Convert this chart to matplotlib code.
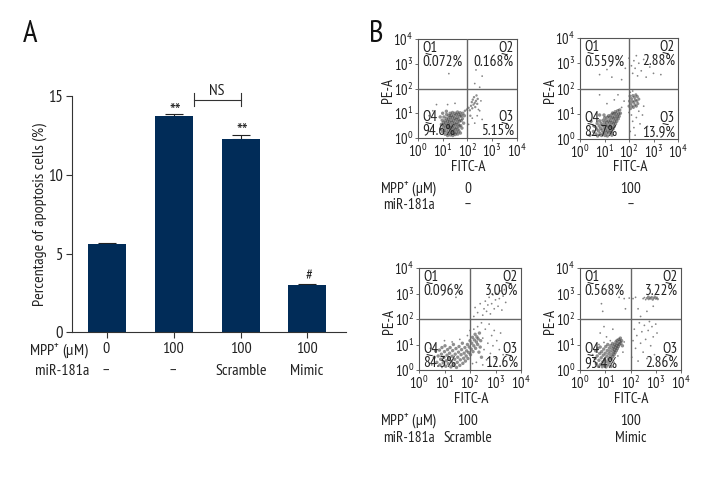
import numpy as np
import matplotlib
matplotlib.use('Agg')
import matplotlib.pyplot as plt
from matplotlib import font_manager as fm

# a narrow face if the machine has one, otherwise plain Liberation Sans
installed = set(f.name for f in fm.fontManager.ttflist)
narrow = [n for n in ['PT Sans Narrow', 'Fira Sans Condensed', 'Liberation Sans Narrow', 'Liberation Sans'] if n in installed]
plt.rcParams['font.family'] = narrow + ['DejaVu Sans']
plt.rcParams['mathtext.fontset'] = 'custom'
plt.rcParams['mathtext.rm'] = narrow[0]
plt.rcParams['mathtext.default'] = 'rm'

# bar chart values
bar_values = [5.6, 13.75, 12.3, 3.0]
bar_errors = [0.05, 0.08, 0.25, 0.07]
mpp_labels = ['0', '100', '100', '100']
mir_labels = ['–', '–', 'Scramble', 'Mimic']
bar_marks = ['', '**', '**', '#']
y_ticks = [0, 5, 10, 15]

# flow panels, text
quad_names = ['Q1', 'Q2', 'Q3', 'Q4']
p1_pct = ['0.072%', '0.168%', '5.15%', '94.6%']
p2_pct = ['0.559%', '2.88%', '13.9%', '82.7%']
p3_pct = ['0.096%', '3.00%', '12.6%', '84.3%']
p4_pct = ['0.568%', '3.22%', '2.86%', '93.4%']
gate_x = [2.0, 2.0, 2.0, 2.0]
gate_y = [2.0, 2.0, 2.0, 2.0]

# flow panels, events read by eye, in decades (log10 of FITC-A, log10 of PE-A)
p1_points = [
    (0.92,0.35),(0.95,0.55),(0.98,0.72),(1.0,0.25),(1.02,0.45),(1.03,0.62),(1.05,0.85),(1.07,0.3),(1.08,0.52),(1.1,0.7),
    (1.1,0.15),(1.12,0.4),(1.13,0.6),(1.15,0.8),(1.16,0.95),(1.17,0.25),(1.18,0.48),(1.2,0.68),(1.2,0.1),(1.22,0.36),
    (1.23,0.56),(1.24,0.76),(1.25,0.9),(1.26,0.2),(1.27,0.44),(1.28,0.64),(1.3,0.84),(1.3,1.0),(1.31,0.12),(1.32,0.32),
    (1.33,0.52),(1.34,0.72),(1.35,0.92),(1.36,0.22),(1.37,0.42),(1.38,0.62),(1.39,0.82),(1.4,1.03),(1.41,0.1),(1.42,0.3),
    (1.43,0.5),(1.44,0.7),(1.45,0.9),(1.46,0.2),(1.47,0.4),(1.48,0.6),(1.49,0.8),(1.5,1.0),(1.51,0.14),(1.52,0.34),
    (1.53,0.54),(1.54,0.74),(1.55,0.94),(1.56,0.24),(1.57,0.44),(1.58,0.64),(1.59,0.84),(1.6,1.05),(1.61,0.16),(1.62,0.36),
    (1.63,0.56),(1.64,0.76),(1.65,0.96),(1.66,0.28),(1.67,0.48),(1.68,0.68),(1.7,0.88),(1.71,1.02),(1.72,0.2),(1.73,0.5),
    (1.75,0.7),(1.76,0.9),(1.78,0.4),(1.8,0.78),(1.82,1.0),(1.85,0.6),(1.88,0.9),(1.0,1.0),(0.9,0.85),(1.15,1.08),
    (1.9,1.1),(1.98,1.15),(2.05,1.22),(2.1,1.12),(2.12,0.9),(2.15,1.3),(2.18,1.45),(2.2,1.2),(2.22,1.55),(2.25,1.35),
    (2.27,1.65),(2.3,1.42),(2.32,1.25),(2.35,1.5),(2.37,1.72),(2.4,1.38),(2.42,1.58),(2.45,1.15),(2.2,0.8),(2.3,0.6),
    (2.4,0.9),(2.5,1.1),(2.55,1.5),(2.6,0.75),(2.05,0.55),(0.6,1.1),(0.75,1.35),(0.45,0.9),(1.2,1.35),(1.5,1.4),
    (2.35,2.75),(2.6,2.5),(1.25,2.6),(1.45,2.9),(2.3,2.2),(2.5,2.05),
]
p2_points = [
    (0.55,0.3),(0.6,0.5),(0.65,0.2),(0.68,0.4),(0.7,0.62),(0.72,0.12),(0.75,0.32),(0.78,0.52),(0.8,0.72),(0.82,0.22),
    (0.84,0.42),(0.86,0.62),(0.88,0.14),(0.9,0.34),(0.92,0.54),(0.94,0.74),(0.96,0.24),(0.98,0.44),(1.0,0.64),(1.01,0.84),
    (1.02,0.14),(1.04,0.34),(1.05,0.54),(1.06,0.74),(1.08,0.24),(1.09,0.44),(1.1,0.64),(1.11,0.86),(1.12,0.12),(1.14,0.32),
    (1.15,0.52),(1.16,0.72),(1.17,0.92),(1.18,0.24),(1.2,0.44),(1.21,0.64),(1.22,0.84),(1.24,0.34),(1.25,0.54),(1.26,0.74),
    (1.27,0.95),(1.28,0.26),(1.3,0.46),(1.31,0.66),(1.32,0.86),(1.33,1.03),(1.35,0.4),(1.36,0.6),(1.37,0.8),(1.38,1.0),
    (1.4,0.5),(1.41,0.7),(1.42,0.9),(1.44,1.08),(1.45,0.6),(1.47,0.8),(1.48,1.0),(1.5,0.7),(1.52,0.9),(1.54,1.12),
    (1.56,0.8),(1.58,1.0),(1.6,0.9),(1.62,1.15),(1.65,1.02),(0.45,0.7),(0.4,0.15),(0.98,0.95),(0.8,0.95),(1.3,0.15),
    (2.0,1.3),(2.02,1.5),(2.04,1.7),(2.06,1.2),(2.08,1.4),(2.1,1.6),(2.12,1.3),(2.14,1.5),(2.16,1.72),(2.18,1.25),
    (2.2,1.45),(2.22,1.65),(2.24,1.35),(2.26,1.55),(2.28,1.75),(2.3,1.3),(2.32,1.5),(2.34,1.68),(2.36,1.4),(2.4,1.58),
    (2.05,1.85),(2.15,1.9),(2.0,1.05),(2.1,0.95),(2.15,0.7),(2.2,0.45),(2.05,0.3),(2.3,0.85),(2.4,1.1),(2.45,0.6),
    (2.55,0.95),(2.25,0.15),(2.6,1.3),(2.75,0.5),(1.7,1.25),(1.8,1.5),(1.4,1.55),(1.1,1.4),(0.8,1.75),(1.55,1.75),
    (0.8,2.55),(1.1,2.75),(1.3,2.45),(1.5,2.95),(1.7,2.35),(1.85,2.8),(2.0,3.2),(2.1,2.9),(2.15,2.6),(2.2,3.1),
    (2.25,2.8),(2.3,3.3),(2.35,2.5),(2.4,3.0),(2.5,2.7),(2.6,3.15),(2.7,2.45),(2.85,2.85),(3.0,2.6),(3.3,2.55),
]
p3_points = [
    (0.6,0.5),(0.65,0.75),(0.7,0.3),(0.75,0.55),(0.8,0.78),(0.82,0.2),(0.85,0.42),(0.88,0.62),(0.9,0.88),(0.95,0.28),
    (0.98,0.5),(1.0,0.72),(1.02,0.95),(1.05,0.15),(1.07,0.36),(1.1,0.58),(1.12,0.8),(1.15,0.25),(1.17,0.46),(1.2,0.66),
    (1.22,0.88),(1.25,0.12),(1.27,0.34),(1.3,0.54),(1.32,0.76),(1.35,1.0),(1.37,0.22),(1.4,0.42),(1.42,0.62),(1.45,0.84),
    (1.47,0.1),(1.5,0.3),(1.52,0.5),(1.55,0.7),(1.57,0.92),(1.6,0.18),(1.62,0.4),(1.65,0.6),(1.67,0.8),(1.7,1.05),
    (1.72,0.26),(1.75,0.46),(1.77,0.66),(1.8,0.88),(1.82,0.35),(1.85,0.55),(1.87,0.75),(1.9,1.0),(1.92,0.45),(1.95,0.68),
    (1.97,0.9),(2.0,1.15),(2.02,0.6),(2.05,0.82),(2.07,1.05),(2.1,1.28),(2.12,0.72),(2.15,0.95),(2.17,1.18),(2.2,1.4),
    (2.22,0.85),(2.25,1.1),(2.27,1.3),(2.3,1.0),(2.32,1.22),(2.35,0.7),(2.37,1.45),(2.4,0.9),(2.42,1.15),(2.45,0.5),
    (0.5,0.2),(0.45,0.85),(0.9,0.1),(1.3,1.1),(1.6,1.2),(1.9,1.35),(1.0,1.15),(2.0,1.55),(2.15,1.6),(2.3,1.7),
    (2.5,1.25),(2.55,0.8),(2.6,1.6),(2.65,0.4),(2.7,1.05),(2.75,1.8),(2.8,0.65),(2.85,1.35),(2.9,0.95),(2.95,1.55),
    (3.0,0.45),(3.05,1.15),(3.15,0.8),(3.2,1.45),(2.5,0.2),(2.8,0.18),(2.25,0.3),(2.1,0.25),(2.45,1.85),(3.3,0.6),
    (2.15,2.1),(2.2,2.45),(2.3,2.25),(2.4,2.6),(2.5,2.15),(2.55,2.4),(2.6,2.7),(2.65,2.3),(2.7,2.55),(2.75,2.85),
    (2.8,2.2),(2.85,2.6),(2.9,2.95),(2.95,2.4),(3.0,2.75),(3.05,3.0),(3.1,2.5),(3.15,2.8),(3.2,3.1),(3.25,2.35),
    (3.3,2.9),(3.35,3.15),(3.4,2.65),(1.45,2.85),(1.55,3.05),
]
p4_points = [
    (0.6,0.45),(0.62,0.75),(0.65,0.25),(0.68,0.55),(0.7,0.85),(0.72,0.15),(0.75,0.38),(0.78,0.65),(0.8,0.9),(0.82,0.22),
    (0.84,0.48),(0.86,0.72),(0.88,0.13),(0.9,0.32),(0.92,0.58),(0.94,0.82),(0.96,0.2),(0.98,0.42),(1.0,0.66),(1.02,0.92),
    (1.03,0.12),(1.05,0.32),(1.06,0.54),(1.08,0.76),(1.1,1.0),(1.11,0.2),(1.13,0.42),(1.14,0.64),(1.16,0.86),(1.18,0.3),
    (1.19,0.52),(1.2,0.74),(1.22,0.96),(1.23,0.14),(1.25,0.42),(1.26,0.62),(1.28,0.84),(1.29,1.04),(1.3,0.52),(1.32,0.72),
    (1.33,0.92),(1.35,0.6),(1.36,0.8),(1.38,1.0),(1.39,0.68),(1.41,0.88),(1.42,1.1),(1.44,0.76),(1.45,0.96),(1.47,1.16),
    (1.48,0.84),(1.5,1.04),(1.52,0.92),(1.54,1.2),(1.56,1.0),(1.58,1.12),(1.6,1.25),(1.62,1.05),(1.65,1.15),(1.68,0.95),
    (0.75,1.0),(0.95,1.08),(1.2,1.15),(1.35,0.3),(1.5,0.55),(1.7,0.7),(1.75,1.1),(0.5,0.6),(1.05,1.3),(0.8,1.45),
    (0.95,1.7),(1.3,1.6),(2.05,0.5),(2.1,1.15),(2.15,1.6),(2.2,0.85),(2.25,1.35),(2.3,0.35),(2.35,1.85),(2.4,1.05),
    (2.45,1.5),(2.5,0.7),(2.55,1.75),(2.6,1.2),(2.65,0.45),(2.7,1.55),(2.75,1.9),(2.8,0.95),(2.85,1.7),(2.9,1.3),
    (2.95,0.6),(3.0,1.8),(3.05,1.45),(1.55,2.85),(1.75,2.8),(1.95,2.82),(2.1,2.8),(2.2,2.85),(2.3,2.4),(2.4,2.1),
    (2.5,2.8),(2.55,2.84),(2.6,2.76),(2.65,2.82),(2.7,2.88),(2.72,2.78),(2.76,2.84),(2.8,2.8),(2.84,2.86),(2.88,2.76),
    (2.92,2.82),(2.96,2.88),(3.0,2.8),(3.04,2.84),(3.08,2.78),(2.65,2.3),(2.9,2.5),(0.9,2.3),(0.85,2.6),(1.8,2.4),
]

# pixel layout of the original
W, H = 720, 480
navy = '#012c58'
ink = '#333333'
row_fs = 11.5


def ax_px(left, top, right, bottom):
    return fig.add_axes([left / W, 1 - bottom / H, (right - left) / W, (bottom - top) / H])


def label(x, y, s, ha='center', size=row_fs, color='#222222'):
    fig.text(x / W, 1 - y / H, s, ha=ha, va='center', fontsize=size, color=color)


def flow_panel(box, points, dense, pct, gx, gy, row_x, mpp, mir, xlabel_y, row_y):
    left, top, right, bottom = box
    ax = ax_px(left, top, right, bottom)
    pts = np.array(points)
    sizes = np.full(len(pts), 1.6)
    alphas = np.full(len(pts), 0.6)
    # the crowded parts of each cloud get fatter dots
    for a, b, sz in dense:
        sizes[a:b] = sz
        alphas[a:b] = 0.55
    colors = np.zeros((len(pts), 4))
    colors[:, :3] = 0.2
    colors[:, 3] = alphas
    ax.scatter(10 ** pts[:, 0], 10 ** pts[:, 1], s=sizes, c=colors, linewidths=0, zorder=2)
    ax.set_xscale('log')
    ax.set_yscale('log')
    ax.set_xlim(1, 1e4)
    ax.set_ylim(1, 1e4)
    ax.axvline(10 ** gx, color='#666666', lw=1.0, zorder=3)
    ax.axhline(10 ** gy, color='#666666', lw=1.0, zorder=3)
    for s in ax.spines.values():
        s.set_color('#555555')
        s.set_linewidth(0.8)
    ax.set_xticks([1, 10, 100, 1000, 10000])
    ax.set_yticks([1, 10, 100, 1000, 10000])
    ax.set_xticklabels(['10$^{%d}$' % i for i in range(5)])
    ax.set_yticklabels(['10$^{%d}$' % i for i in range(5)])
    ax.minorticks_off()
    ax.tick_params(axis='both', length=2, width=0.6, color='#555555', labelsize=10.5,
                   labelcolor='#222222', pad=1.5)
    # quadrant text
    w = right - left
    label(left + 4, top + 9, quad_names[0], ha='left', size=11)
    label(left + 4, top + 23, pct[0], ha='left', size=11)
    label(right - 3, top + 9, quad_names[1], ha='right', size=11)
    label(right - 3, top + 23, pct[1], ha='right', size=11)
    label(right - 3, bottom - 21, quad_names[2], ha='right', size=11)
    label(right - 3, bottom - 7, pct[2], ha='right', size=11)
    label(left + 4, bottom - 21, quad_names[3], ha='left', size=11)
    label(left + 4, bottom - 7, pct[3], ha='left', size=11)
    fig.text((left - 30) / W, 1 - ((top + bottom) / 2 + 2) / H, 'PE-A', rotation=90, ha='center', va='center',
             fontsize=11, color='#222222')
    label(left + w / 2 + 1, xlabel_y, 'FITC-A', size=11)
    label(row_x, row_y[0], mpp, size=11)
    label(row_x, row_y[1], mir, size=11)


fig = plt.figure(figsize=(7.2, 4.8), dpi=100)

# panel A
ax = ax_px(72, 96, 346, 332.3)
xpos = np.arange(len(bar_values))
ax.bar(xpos, bar_values, width=0.57, color=navy, zorder=2)
ax.errorbar(xpos, bar_values, yerr=[[0] * 4, bar_errors], fmt='none', ecolor='#222222',
            elinewidth=0.8, capsize=6.5, capthick=0.8, zorder=1)
ax.set_xlim(-0.525, 3.58)
ax.set_ylim(0, 15)
ax.set_yticks(y_ticks)
ax.set_xticks(xpos)
ax.set_xticklabels([])
ax.spines['top'].set_visible(False)
ax.spines['right'].set_visible(False)
for s in ['left', 'bottom']:
    ax.spines[s].set_color('#333333')
    ax.spines[s].set_linewidth(0.8)
ax.tick_params(axis='both', length=4.5, width=0.8, color='#333333', labelsize=12, labelcolor='#222222', pad=2)
ax.set_ylabel('Percentage of apoptosis cells (%)', fontsize=11.5, color='#222222')
ax.yaxis.set_label_coords(-0.09, 0.5)

# significance marks
for i, m in zip(xpos, bar_marks):
    if m:
        top_val = bar_values[i] + bar_errors[i]
        if m == '#':
            ax.text(i + 0.02, top_val + 0.19, m, ha='center', va='baseline', fontsize=11,
                    color='#222222', clip_on=False)
        else:
            ax.text(i + 0.02, top_val - 0.16, m, ha='center', va='baseline', fontsize=14,
                    color='#222222', clip_on=False, zorder=3)
ax.plot([1.3, 1.3], [14.37, 15.16], color=ink, lw=0.8, clip_on=False)
ax.plot([2.0, 2.0], [14.37, 15.16], color=ink, lw=0.8, clip_on=False)
ax.plot([1.3, 2.0], [14.75, 14.75], color=ink, lw=0.8, clip_on=False)
ax.text(1.65, 14.9, 'NS', ha='center', va='bottom', fontsize=11.5, color='#222222', clip_on=False)

label(89, 351, 'MPP$^{+}$ (μM)', ha='right')
label(89, 371, 'miR-181a', ha='right')
for cx, m, r in zip([106, 173, 241, 307], mpp_labels, mir_labels):
    label(cx, 349, m)
    label(cx, 371, r)

label(30, 34, 'A', size=22, color='#111111')
label(376, 34, 'B', size=22, color='#111111')

# panel B
flow_panel((418, 39, 516.7, 138), p1_points, [(0, 80, 6), (80, 97, 3)], p1_pct, gate_x[0], gate_y[0], 468, '0', '–', 167, (189, 205))
flow_panel((580, 38, 678, 139), p2_points, [(0, 70, 6), (70, 90, 5)], p2_pct, gate_x[1], gate_y[1], 631, '100', '–', 167, (189, 205))
flow_panel((419, 268, 521, 370), p3_points, [(0, 70, 6)], p3_pct, gate_x[2], gate_y[2], 468, '100', 'Scramble', 399, (421, 438))
flow_panel((580, 268, 681, 370), p4_points, [(0, 60, 6), (103, 115, 3)], p4_pct, gate_x[3], gate_y[3], 631, '100', 'Mimic', 399, (421, 438))

label(437, 189, 'MPP$^{+}$ (μM)', ha='right', size=11)
label(435, 205, 'miR-181a', ha='right', size=11)
label(437, 421, 'MPP$^{+}$ (μM)', ha='right', size=11)
label(435, 438, 'miR-181a', ha='right', size=11)

fig.savefig('out.png', dpi=100)
